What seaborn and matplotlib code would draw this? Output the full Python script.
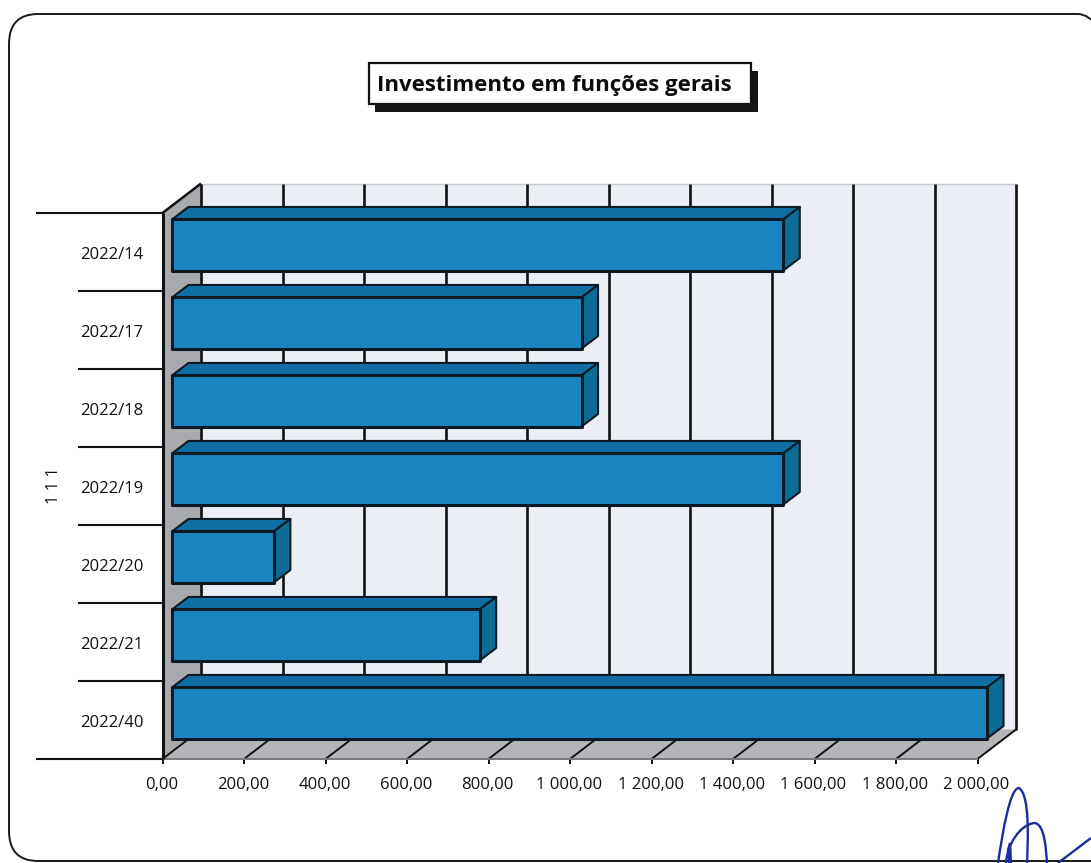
import seaborn as sns
import pandas as pd
import numpy as np
import matplotlib.pyplot as plt
from matplotlib.patches import Polygon, Rectangle, PathPatch
from matplotlib.path import Path

categories = ['2022/14', '2022/17', '2022/18', '2022/19', '2022/20', '2022/21', '2022/40']
values = [1500, 1005, 1005, 1500, 250, 755, 2000]
xticks = [0, 200, 400, 600, 800, 1000, 1200, 1400, 1600, 1800, 2000]
xticklabels = ['0,00', '200,00', '400,00', '600,00', '800,00', '1 000,00', '1 200,00',
               '1 400,00', '1 600,00', '1 800,00', '2 000,00']
group_label = '1 1 1'
title = 'Investimento em funções gerais'

W, H = 1091, 863
FONT = 'Open Sans'
LABEL_SIZE = 12
FRONT_BLUE = '#1a85bf'
TOP_BLUE = '#0f6fa5'
SIDE_BLUE = '#0d6c96'
DARK = '#0d1a24'

sns.set_theme(style='white')
plt.rcParams['font.family'] = [FONT, 'DejaVu Sans']

fig = plt.figure(figsize=(W / 100, H / 100), dpi=100, facecolor='white')


def add_px_axes(left, top, right, bottom):
    return fig.add_axes([left / W, 1 - bottom / H, (right - left) / W, (bottom - top) / H])


ax = add_px_axes(162.5, 213, 977.5, 759)
df = pd.DataFrame({'cat': categories, 'val': values})
sns.barplot(data=df, x='val', y='cat', orient='h', width=0.655, color=FRONT_BLUE, saturation=1,
            edgecolor=DARK, linewidth=2, ax=ax, zorder=5)
ax.set_xlim(0, 2000)
ax.set_ylim(6.5, -0.5)
ax.set_xlabel('')
ax.set_ylabel('')
ax.set_xticks([])
ax.set_yticks([])
sns.despine(ax=ax, left=True, bottom=True)
ax.patch.set_alpha(0)
fig.canvas.draw()

DEPTH = (38.5, 29.5)       # front plane to back wall
BAR_SHIFT = (9.5, 7)       # front plane to front of the bars
BAR_DEPTH = (16.5, 12.5)   # front of the bars to back of the bars


def pt(x, y, shift=(0, 0)):
    # data position to display pixels, moved back along the depth axis
    px, py = ax.transData.transform((x, y))
    return (px + shift[0], py + shift[1])


def face(points, **kw):
    fig.add_artist(Polygon(points, closed=True, transform=None, **kw))


def seg(p, q, color='black', lw=2, zorder=2):
    fig.add_artist(plt.Line2D([p[0], q[0]], [p[1], q[1]], transform=None, color=color, lw=lw,
                              zorder=zorder, solid_capstyle='butt'))


ymin, ymax = 6.5, -0.5

# back wall, left wall, floor
face([pt(0, ymin, DEPTH), pt(2000, ymin, DEPTH), pt(2000, ymax, DEPTH), pt(0, ymax, DEPTH)],
     facecolor='#eceef6', edgecolor='#c9c9cf', lw=1, zorder=1)
face([pt(0, ymax), pt(0, ymax, DEPTH), pt(0, ymin, DEPTH), pt(0, ymin)],
     facecolor='#a9aaae', edgecolor='none', zorder=1)
face([pt(0, ymin), pt(2000, ymin), pt(2000, ymin, DEPTH), pt(0, ymin, DEPTH)],
     facecolor='#b4b5b9', edgecolor='none', zorder=1)

for t, lab in zip(xticks, xticklabels):
    seg(pt(t, ymin, DEPTH), pt(t, ymax, DEPTH), color='#111111', lw=1.9)
    seg(pt(t, ymin), pt(t, ymin, DEPTH), color='#111111', lw=1.4)
    a = pt(t, ymin)
    seg(a, (a[0], a[1] - 5), color='#111111', lw=1.4)
    ax.annotate(lab, xy=(t, ymin), xycoords='data', xytext=(-1, -26), textcoords='offset pixels',
                ha='center', va='center', fontsize=LABEL_SIZE, color='#111111', annotation_clip=False)

# edges of the walls and floor
seg(pt(0, ymax), pt(0, ymin), color='#111111', lw=2.2, zorder=3)
seg(pt(0, ymax), pt(0, ymax, DEPTH), color='#111111', lw=1.8, zorder=3)
seg(pt(0, ymin), pt(2000, ymin), color='#77787c', lw=1.4, zorder=2)

# category separators and labels
for i in range(len(categories) + 1):
    yy = i - 0.5
    p = pt(0, yy)
    x_left = 36 if i in (0, len(categories)) else 78
    seg((x_left, p[1]), p, color='#111111', lw=1.5, zorder=3)
for i, c in enumerate(categories):
    ax.annotate(c, xy=(0, i), xycoords='data', xytext=(-51, -3), textcoords='offset pixels',
                ha='center', va='center', fontsize=LABEL_SIZE, color='#111111', annotation_clip=False)
ax.annotate(group_label, xy=(0, 3), xycoords='data', xytext=(-109, 0), textcoords='offset pixels',
            ha='center', va='center', rotation=90, fontsize=LABEL_SIZE, color='#111111',
            annotation_clip=False)

# move the bars back a little and give them a top and an end face
for bar in ax.patches:
    x0, y0 = bar.get_x(), bar.get_y()
    w, h = bar.get_width(), bar.get_height()
    s = BAR_SHIFT
    b = (s[0] + BAR_DEPTH[0], s[1] + BAR_DEPTH[1])
    face([pt(x0, y0, s), pt(x0 + w, y0, s), pt(x0 + w, y0, b), pt(x0, y0, b)],
         facecolor=TOP_BLUE, edgecolor=DARK, lw=1.5, joinstyle='round', zorder=4)
    face([pt(x0 + w, y0, s), pt(x0 + w, y0 + h, s), pt(x0 + w, y0 + h, b), pt(x0 + w, y0, b)],
         facecolor=SIDE_BLUE, edgecolor=DARK, lw=1.5, joinstyle='round', zorder=4)
    face([pt(x0, y0, s), pt(x0 + w, y0, s), pt(x0 + w, y0 + h, s), pt(x0, y0 + h, s)],
         facecolor=FRONT_BLUE, edgecolor=DARK, lw=2.2, joinstyle='round', zorder=5)
    bar.set_visible(False)

# rounded page frame, runs off the right edge of the scan
frame_xy = [(1100, H - 28), (1088, H - 14), (1078, H - 14), (38, H - 14), (9, H - 14), (9, H - 44),
            (9, 32), (9, 2), (38, 2), (1100, 2)]
frame_codes = [Path.MOVETO, Path.CURVE3, Path.CURVE3, Path.LINETO, Path.CURVE3, Path.CURVE3,
               Path.LINETO, Path.CURVE3, Path.CURVE3, Path.LINETO]
fig.add_artist(PathPatch(Path(frame_xy, frame_codes), transform=None, facecolor='none',
                         edgecolor='#1a1a1a', lw=1.4, zorder=0))

# title box with its shadow
fig.add_artist(Rectangle((375, H - 112), 383, 41, transform=None, facecolor='#151515',
                         edgecolor='none', zorder=6))
fig.add_artist(Rectangle((368.5, H - 104), 382, 41, transform=None, facecolor='white',
                         edgecolor='#111111', lw=1.6, zorder=7))
fig.text(554 / W, 1 - 86 / H, title, ha='center', va='center', fontsize=16, weight='bold',
         color='#0b0b0b', zorder=8)

# signature in the corner
sig1 = Path([(998, 863), (1003, 830), (1010, 788), (1019, 788), (1030, 795), (1028, 840), (1027, 863)],
            [Path.MOVETO, Path.CURVE4, Path.CURVE4, Path.CURVE4, Path.CURVE4, Path.CURVE4, Path.CURVE4])
sig2 = Path([(1006, 863), (1007, 845), (1020, 824), (1035, 823), (1045, 825), (1046, 850), (1047, 863)],
            [Path.MOVETO, Path.CURVE4, Path.CURVE4, Path.CURVE4, Path.CURVE4, Path.CURVE4, Path.CURVE4])
sig3 = Path([(1058, 863), (1091, 838)], [Path.MOVETO, Path.LINETO])
sig4 = Path([(1009, 863), (1008, 850), (1010, 843), (1011, 863)],
            [Path.MOVETO, Path.LINETO, Path.LINETO, Path.LINETO])
for sig in (sig1, sig2, sig3, sig4):
    flipped = Path(np.column_stack([sig.vertices[:, 0], H - sig.vertices[:, 1]]), sig.codes)
    fig.add_artist(PathPatch(flipped, transform=None, facecolor='none', edgecolor='#1d2d9a',
                             lw=1.7, zorder=9))

fig.savefig('out.png', dpi=100, facecolor='white')
